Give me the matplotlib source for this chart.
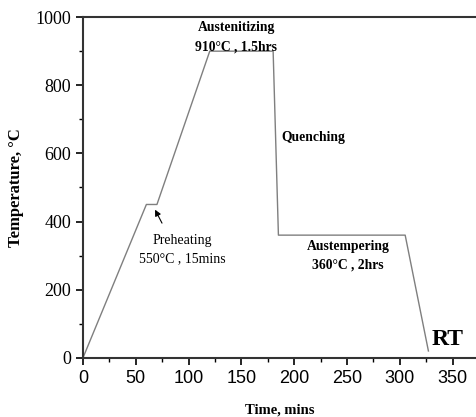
import numpy as np
import matplotlib.pyplot as plt
from matplotlib.ticker import MultipleLocator

# heat treatment cycle (time in mins, temperature in C)
time = [0, 60, 70, 120, 180, 185, 305, 327]
temp = [0, 450, 450, 900, 900, 360, 360, 20]

xticks = [0, 50, 100, 150, 200, 250, 300, 350]
yticks = [0, 200, 400, 600, 800, 1000]

serif = 'Liberation Serif'

fig = plt.figure(figsize=(4.77, 4.17), dpi=100)
ax = fig.add_axes([0.174, 0.142, 0.826, 0.817])

ax.plot(time, temp, color='#7f7f7f', lw=1.0)

ax.set_xlim(0, 373)
ax.set_ylim(0, 1000)
ax.set_xticks(xticks)
ax.set_xticklabels([str(v) for v in xticks], fontfamily='Liberation Sans', fontsize=13)
ax.set_yticks(yticks)
ax.set_yticklabels([str(v) for v in yticks], fontfamily=serif, fontsize=13)
ax.xaxis.set_minor_locator(MultipleLocator(25))
ax.yaxis.set_minor_locator(MultipleLocator(100))
ax.tick_params(which='major', length=5, width=1.2, direction='out')
ax.tick_params(which='minor', length=3, width=1.0, direction='out')
ax.spines['right'].set_visible(False)
for s in ['left', 'bottom', 'top']:
    ax.spines[s].set_linewidth(1.5)
    ax.spines[s].set_color('#333333')

ax.set_xlabel('Time, mins', fontfamily=serif, fontweight='bold', fontsize=10.5, labelpad=12)
ax.set_ylabel('Temperature, °C', fontfamily=serif, fontweight='bold', fontsize=12, labelpad=8)

bold = dict(fontfamily=serif, fontweight='bold', fontsize=9.8)
ax.text(145, 970, 'Austenitizing', ha='center', va='center', **bold)
ax.text(145, 913, '910°C , 1.5hrs', ha='center', va='center', **bold)
ax.text(188, 648, 'Quenching', ha='left', va='center', **bold)
ax.text(251, 326, 'Austempering', ha='center', va='center', **bold)
ax.text(251, 272, '360°C , 2hrs', ha='center', va='center', **bold)
ax.text(330, 55, 'RT', ha='left', va='center', fontfamily=serif, fontweight='bold', fontsize=17)

ax.text(94, 345, 'Preheating', ha='center', va='center', fontfamily=serif, fontsize=10)
ax.text(94, 292, '550°C , 15mins', ha='center', va='center', fontfamily=serif, fontsize=10)
ax.annotate('', xy=(67, 442), xytext=(76, 388),
            arrowprops=dict(arrowstyle='-|>', color='black', lw=0.8, mutation_scale=9))

fig.savefig('out.png', dpi=100)
